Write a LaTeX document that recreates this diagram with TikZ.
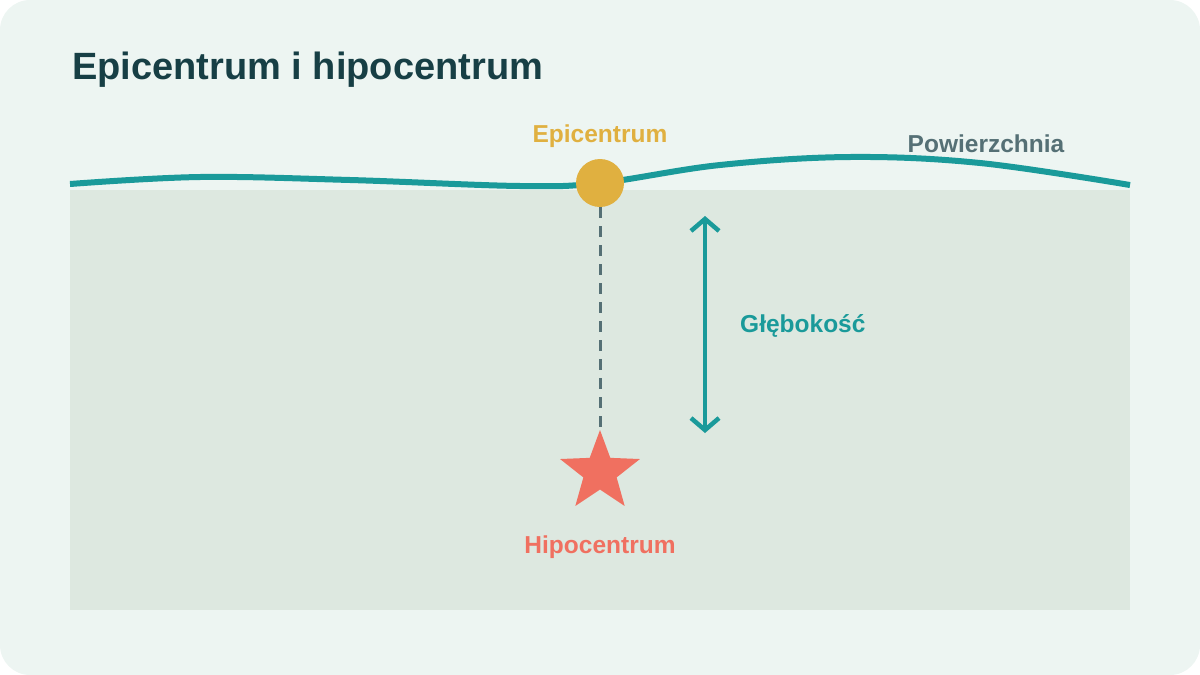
\documentclass[tikz,border=0pt]{standalone}
\usepackage{fontspec}
\setmainfont{Liberation Sans}
\usetikzlibrary{shapes.geometric,arrows.meta}
\definecolor{bgcol}{HTML}{EDF5F2}
\definecolor{groundcol}{HTML}{DDE8E0}
\definecolor{tealcol}{HTML}{1A9A9A}
\definecolor{goldcol}{HTML}{E0B040}
\definecolor{salmoncol}{HTML}{F07060}
\definecolor{slatecol}{HTML}{557075}
\definecolor{titlecol}{HTML}{173F45}
\tikzset{
  lbl/.style={font=\bfseries\fontsize{24.5}{28}\selectfont, inner sep=0pt},
}
\begin{document}
\begin{tikzpicture}[x=1pt,y=-1pt]
%Background
\fill[bgcol, rounded corners=30pt] (0,0) rectangle (1200,675);
\useasboundingbox (0,0) rectangle (1200,675);
\fill[groundcol] (70,190) rectangle (1130,610);
\node[anchor=west, inner sep=0pt, text=titlecol, font=\bfseries\fontsize{38}{44}\selectfont] (title) at (72,70) {Epicentrum i hipocentrum};

%Surface
\draw[tealcol, line width=6pt] plot[smooth, tension=0.6] coordinates {(70,184) (200,177) (350,180) (520,186) (600,183) (720,165) (850,157) (980,163) (1130,185)};
\node[lbl, text=slatecol] (surf) at (986,144) {Powierzchnia};

%Epicentre and hypocentre
\node[circle, fill=goldcol, minimum size=48pt, inner sep=0pt] (epi) at (600,183) {};
\node[lbl, text=goldcol] (epilbl) at (600,136) {Epicentrum};
\node[star, star points=5, star point ratio=2.4, fill=salmoncol, minimum size=84pt, inner sep=0pt] (hypo) at (600,472) {};
\node[lbl, text=salmoncol] (hypolbl) at (600,547) {Hipocentrum};
\coordinate (hypotop) at (600,432);
\draw[slatecol, line width=3pt, dash pattern=on 11pt off 8pt] (epi.south) -- (hypotop);

%Depth
\coordinate (dtop) at (705,216);
\coordinate (dbot) at (705,433);
\draw[tealcol, line width=4.5pt, {Straight Barb[length=12pt,width=28pt]}-{Straight Barb[length=12pt,width=28pt]}] (dtop) -- (dbot);
\node[lbl, text=tealcol, anchor=west] (depth) at (740,326) {Głębokość};
\end{tikzpicture}
\end{document}
